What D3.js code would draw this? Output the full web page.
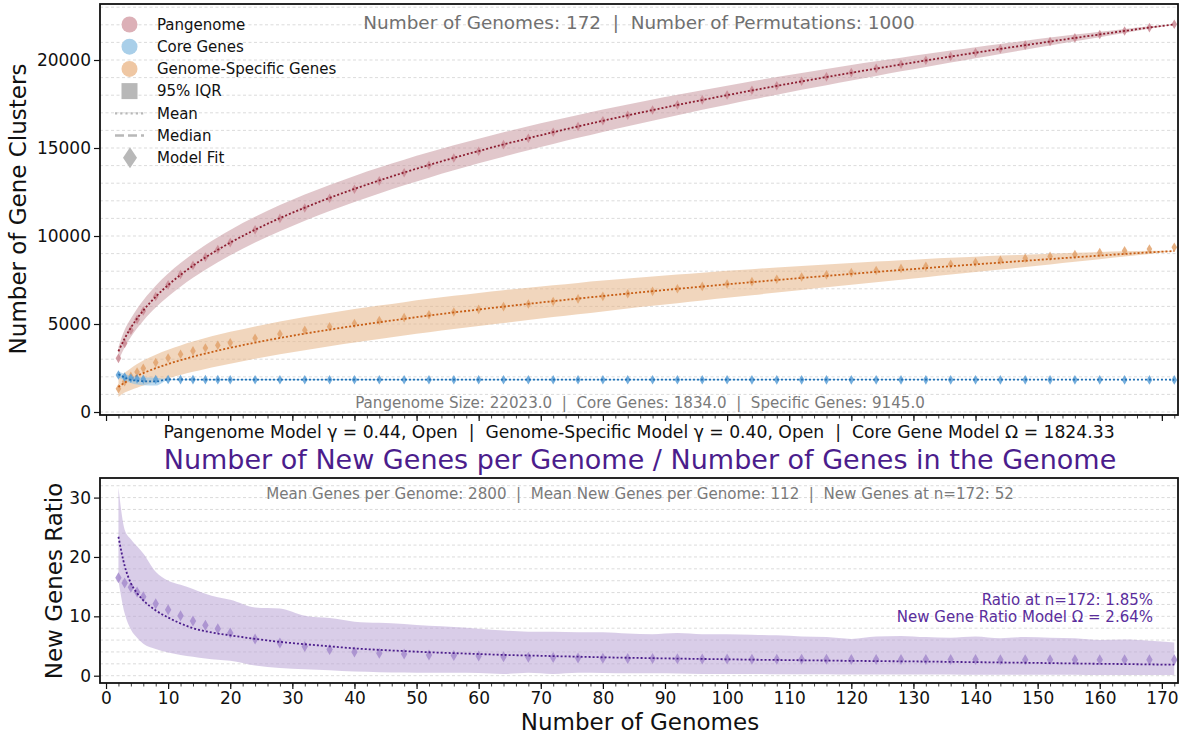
<!DOCTYPE html>
<html>
<head>
<meta charset="utf-8">
<script src="https://cdn.jsdelivr.net/npm/d3@7"></script>
<style>
  body { margin: 0; background: #fff; }
  text { font-family: "DejaVu Sans", sans-serif; white-space: pre; }
</style>
</head>
<body>
<div id="chart"></div>
<script>

// number of genomes sampled (x)
var genomes = [2,3,4,5,6,8,10,12,14,16,18,20,24,28,32,36,40,44,48,52,56,60,64,68,72,76,80,84,88,92,96,100,
    104,108,112,116,120,124,128,132,136,140,144,148,152,156,160,164,168,172];

// pangenome
var panMean = [3450,4173,4790,5312,5769,6551,7213,7792,8312,8783,9218,9622,10357,11015,11613,12165,12676,13156,13608,14035,
    14441,14829,15199,15556,15898,16228,16548,16855,17154,17446,17727,18002,18269,18529,18783,19031,19274,19512,19745,19973,
    20196,20415,20631,20841,21050,21254,21453,21652,21845,22023];
var panLo = [2900,3673,4260,4752,5189,5931,6563,7122,7622,8083,8508,8902,9627,10275,10873,11425,11936,12421,12878,13315,
    13731,14129,14509,14876,15233,15578,15913,16235,16554,16866,17167,17462,17749,18029,18303,18571,18834,19097,19355,19608,
    19856,20100,20346,20586,20825,21064,21298,21537,21775,22023];
var panHi = [3700,4673,5320,5872,6349,7171,7863,8462,9002,9483,9928,10342,11087,11755,12353,12905,13416,13891,14338,14755,
    15151,15529,15889,16236,16563,16878,17183,17475,17754,18026,18287,18542,18789,19029,19263,19491,19714,19927,20135,20338,
    20536,20730,20916,21096,21275,21444,21608,21767,21915,22023];
var panFit = [3050,3900,4650,5250,5740,6560,7230,7810,8330,8800,9230,9625,10350,11000,11595,12145,12655,13135,13590,14020,
    14428,14818,15190,15550,15894,16226,16548,16858,17158,17452,17735,18010,18278,18539,18794,19042,19285,19523,19756,19983,
    20205,20423,20637,20846,21053,21255,21452,21648,21840,22030];

// core genes
var coreMean = [2150,1960,1830,1780,1750,1740,1850,1848,1846,1845,1844,1843,1842,1841,1840,1840,1839,1839,1838,1838,
    1838,1837,1837,1837,1837,1837,1837,1837,1837,1837,1837,1837,1836,1836,1836,1836,1836,1836,1836,1836,
    1836,1836,1835,1835,1835,1835,1835,1835,1835,1834];
var coreLo = [1980,1800,1650,1560,1520,1500,1805,1805,1805,1805,1805,1805,1805,1805,1805,1805,1805,1805,1805,1805,
    1805,1805,1806,1806,1806,1807,1807,1808,1808,1809,1810,1810,1811,1812,1813,1814,1815,1816,1817,1818,
    1819,1820,1822,1824,1826,1828,1830,1831,1833,1834];
var coreHi = [2300,2160,2050,1990,1960,1950,1880,1878,1876,1875,1874,1873,1872,1871,1870,1870,1869,1869,1868,1868,
    1868,1867,1867,1867,1866,1866,1865,1865,1864,1864,1863,1862,1861,1860,1859,1858,1857,1856,1855,1854,
    1853,1852,1850,1848,1846,1844,1841,1839,1836,1834];
var coreFit = [2100,1990,1920,1880,1860,1850,1845,1842,1840,1839,1838,1837,1836,1835,1834,1834,1833,1833,1832,1832,
    1832,1831,1831,1831,1830,1830,1830,1830,1829,1829,1829,1829,1828,1828,1828,1828,1828,1827,1827,1827,
    1827,1827,1826,1826,1826,1826,1826,1825,1825,1825];

// genome-specific genes
var specMean = [1420,1668,1873,2051,2210,2488,2729,2944,3141,3321,3490,3649,3941,4208,4453,4682,4897,5100,5293,5478,
    5655,5824,5988,6146,6298,6446,6590,6730,6866,6999,7128,7255,7378,7499,7618,7734,7848,7960,8070,8177,
    8284,8388,8491,8592,8691,8790,8887,8982,9070,9145];
var specLo = [850,1108,1253,1381,1500,1718,1919,2104,2281,2441,2595,2744,3021,3278,3513,3737,3947,4150,4343,4528,
    4710,4884,5058,5226,5393,5556,5715,5875,6031,6184,6338,6490,6638,6789,6938,7084,7228,7375,7520,7662,
    7809,7953,8096,8242,8386,8535,8682,8832,8980,9145];
var specHi = [1900,2228,2493,2721,2920,3258,3539,3784,4001,4201,4385,4554,4861,5138,5393,5627,5847,6050,6243,6428,
    6600,6764,6918,7066,7203,7336,7465,7585,7701,7814,7918,8020,8118,8209,8298,8384,8468,8545,8620,8692,
    8759,8823,8886,8942,8996,9045,9092,9132,9160,9145];
var specFit = [1320,1718,2023,2271,2480,2808,3069,3284,3471,3641,3790,3929,4191,4428,4643,4842,5027,5200,5363,5528,
    5685,5834,5988,6136,6283,6426,6570,6715,6856,6999,7138,7275,7408,7539,7668,7794,7918,8040,8160,8277,
    8394,8508,8621,8732,8841,8950,9057,9162,9265,9360];

// new genes ratio (%)
var ratioMean = [23.4,18.5,15.6,13.9,12.7,11.0,9.8,8.8,8.0,7.5,7.1,6.8,6.2,5.7,5.3,4.95,4.6,4.35,4.15,3.95,
    3.8,3.65,3.5,3.4,3.3,3.2,3.1,3.02,2.95,2.88,2.82,2.76,2.7,2.65,2.6,2.55,2.5,2.46,2.42,2.38,
    2.33,2.28,2.23,2.18,2.12,2.06,2.0,1.96,1.9,1.85];
var ratioLo = [16.0,10.5,7.8,6.4,5.4,4.5,3.9,3.5,3.2,2.9,2.7,2.5,1.7,1.3,1.1,0.9,0.7,0.6,0.55,0.5,
    0.5,0.45,0.3,0.5,0.3,0.5,0.45,0.4,0.4,0.35,0.3,0.3,0.3,0.25,0.25,0.25,0.2,0.2,0.2,0.2,
    0.2,0.15,0.15,0.15,0.15,0.15,0.1,0.1,0.1,0.1];
var ratioHi = [31.7,24.6,23.0,21.8,20.6,17.5,16.0,15.3,14.6,13.8,13.2,12.8,11.5,11.3,10.1,9.7,9.1,8.9,8.7,8.4,
    8.2,7.9,7.6,7.4,7.4,7.3,7.3,7.1,7.0,7.2,7.0,7.0,6.9,6.8,6.6,6.5,6.2,6.6,6.7,6.5,
    6.4,6.6,6.3,6.5,6.4,6.3,6.0,6.1,5.9,5.6];
var ratioFit = [16.5,15.6,14.9,14.1,13.3,12.1,11.1,10.1,9.2,8.5,7.9,7.2,6.2,5.5,4.9,4.4,4.0,3.8,3.65,3.5,
    3.4,3.3,3.2,3.12,3.05,3.0,2.95,2.9,2.88,2.85,2.82,2.8,2.78,2.77,2.76,2.75,2.74,2.73,2.72,2.72,
    2.71,2.71,2.70,2.70,2.69,2.69,2.68,2.68,2.67,2.67];

// ticks
var xTicks = [0,10,20,30,40,50,60,70,80,90,100,110,120,130,140,150,160,170];
var yTopTicks = [0,5000,10000,15000,20000];
var yBotTicks = [0,10,20,30];

var legendItems = ['Pangenome','Core Genes','Genome-Specific Genes','95% IQR','Mean','Median','Model Fit'];

var width = 1182, height = 735;
var left = 100, right = 1178;

var svg = d3.select('#chart').append('svg')
    .attr('width', width)
    .attr('height', height);

var x = d3.scaleLinear().domain([-0.97, 172.6]).range([left, right]);
var yTop = d3.scaleLinear().domain([-170, 23182]).range([415, 4]);
var yBot = d3.scaleLinear().domain([-1.23, 33.3]).range([683, 478]);

var idx = d3.range(genomes.length);

function diamond(w, h) {
    return 'M0,' + (-h) + 'L' + w + ',0L0,' + h + 'L' + (-w) + ',0Z';
}

function panel(y, id, gridStep, yTicks, showLabels) {
    var top = y.range()[1], bottom = y.range()[0];
    var g = svg.append('g');

    svg.append('clipPath').attr('id', id)
        .append('rect')
        .attr('x', left).attr('y', top)
        .attr('width', right - left).attr('height', bottom - top);

    // dashed grid
    var grid = d3.range(0, y.domain()[1], gridStep);
    g.selectAll('line.grid').data(grid).enter()
        .append('line')
        .attr('class', 'grid')
        .attr('x1', left).attr('x2', right)
        .attr('y1', function(d){ return y(d); })
        .attr('y2', function(d){ return y(d); })
        .attr('stroke', '#d2d2d2')
        .attr('stroke-width', 0.8)
        .attr('stroke-dasharray', '3,2.5');

    var plot = g.append('g').attr('clip-path', 'url(#' + id + ')');

    // frame
    g.append('rect')
        .attr('x', left).attr('y', top)
        .attr('width', right - left).attr('height', bottom - top)
        .attr('fill', 'none')
        .attr('stroke', '#111')
        .attr('stroke-width', 1.8);

    // y axis
    var yAxis = g.append('g').attr('transform', 'translate(' + left + ',0)')
        .call(d3.axisLeft(y).tickValues(yTicks).tickSize(6).tickPadding(3).tickFormat(d3.format('d')));
    yAxis.select('.domain').remove();
    yAxis.selectAll('line').attr('stroke', '#111').attr('stroke-width', 1.2);
    yAxis.selectAll('text').attr('font-size', '17px').attr('fill', '#111')
        .attr('font-family', 'DejaVu Sans');

    // x axis minor + major
    var xMinor = g.append('g').attr('transform', 'translate(0,' + bottom + ')')
        .call(d3.axisBottom(x).tickValues(d3.range(0, 173, 2)).tickSize(3.5).tickFormat(''));
    xMinor.select('.domain').remove();
    xMinor.selectAll('line').attr('stroke', '#111').attr('stroke-width', 0.8);

    var xAxis = g.append('g').attr('transform', 'translate(0,' + bottom + ')')
        .call(d3.axisBottom(x).tickValues(xTicks).tickSize(6).tickPadding(3)
            .tickFormat(showLabels ? d3.format('d') : ''));
    xAxis.select('.domain').remove();
    xAxis.selectAll('line').attr('stroke', '#111').attr('stroke-width', 1.2);
    xAxis.selectAll('text').attr('font-size', '17px').attr('fill', '#111')
        .attr('font-family', 'DejaVu Sans');

    return plot;
}

function series(plot, y, mean, lo, hi, fit, st) {
    plot.append('path')
        .datum(idx)
        .attr('d', d3.area()
            .x(function(i){ return x(genomes[i]); })
            .y0(function(i){ return y(lo[i]); })
            .y1(function(i){ return y(hi[i]); })
            .curve(d3.curveMonotoneX))
        .attr('fill', st.band)
        .attr('fill-opacity', st.bandOpacity);

    plot.selectAll(null)
        .data(idx)
        .enter()
        .append('path')
        .attr('d', diamond(st.w, st.h))
        .attr('transform', function(i){ return 'translate(' + x(genomes[i]) + ',' + y(fit[i]) + ')'; })
        .attr('fill', st.marker)
        .attr('fill-opacity', 0.85);

    plot.append('path')
        .datum(idx)
        .attr('d', d3.line()
            .x(function(i){ return x(genomes[i]); })
            .y(function(i){ return y(mean[i]); })
            .curve(d3.curveMonotoneX))
        .attr('fill', 'none')
        .attr('stroke', st.line)
        .attr('stroke-width', 1.8)
        .attr('stroke-dasharray', '2,2');
}

var topPlot = panel(yTop, 'clipTop', 1000, yTopTicks, false);
var botPlot = panel(yBot, 'clipBot', 2, yBotTicks, true);

series(topPlot, yTop, panMean, panLo, panHi, panFit,
    {band: '#c48f98', bandOpacity: 0.5, marker: '#c98893', line: '#8c1d30', w: 2.8, h: 4.8});
series(topPlot, yTop, specMean, specLo, specHi, specFit,
    {band: '#e6b587', bandOpacity: 0.55, marker: '#e2a26c', line: '#c75d14', w: 2.8, h: 4.8});
series(topPlot, yTop, coreMean, coreLo, coreHi, coreFit,
    {band: '#8fc2e4', bandOpacity: 0.6, marker: '#5b9fd6', line: '#1f6fb4', w: 2.8, h: 4.8});
series(botPlot, yBot, ratioMean, ratioLo, ratioHi, ratioFit,
    {band: '#b9a4d6', bandOpacity: 0.55, marker: '#a58bcc', line: '#4b1d8c', w: 3.2, h: 5.5});

// legend
var legend = svg.append('g');
var legendY = function(i){ return 24.5 + i * 22.2; };
var circleColors = ['#dcb0b7', '#a9cfe9', '#efc7a3'];
circleColors.forEach(function(c, i){
    legend.append('circle').attr('cx', 129.5).attr('cy', legendY(i)).attr('r', 8).attr('fill', c);
});
legend.append('rect').attr('x', 121.5).attr('y', legendY(3) - 8).attr('width', 16).attr('height', 16).attr('fill', '#b8b8b8');
legend.append('line').attr('x1', 115).attr('x2', 145).attr('y1', legendY(4)).attr('y2', legendY(4))
    .attr('stroke', '#b8b8b8').attr('stroke-width', 2.2).attr('stroke-dasharray', '2.2,3');
legend.append('line').attr('x1', 115).attr('x2', 144).attr('y1', legendY(5)).attr('y2', legendY(5))
    .attr('stroke', '#b8b8b8').attr('stroke-width', 2.5).attr('stroke-dasharray', '9,4');
legend.append('path').attr('d', diamond(7, 10.5))
    .attr('transform', 'translate(130,' + legendY(6) + ')').attr('fill', '#b8b8b8');
legend.selectAll('text.leg').data(legendItems).enter()
    .append('text')
    .attr('class', 'leg')
    .attr('x', 157)
    .attr('y', function(d, i){ return legendY(i); })
    .attr('dy', '0.35em')
    .attr('font-size', '15px')
    .attr('fill', '#111')
    .text(function(d){ return d; });

// annotations
function label(txt, px, py, size, color, anchor) {
    return svg.append('text')
        .attr('x', px).attr('y', py)
        .attr('dy', '0.35em')
        .attr('text-anchor', anchor || 'middle')
        .attr('font-size', size)
        .attr('fill', color)
        .text(txt);
}

label('Number of Genomes: 172  |  Number of Permutations: 1000', 639, 23, '18.4px', '#707070');
label('Pangenome Size: 22023.0  |  Core Genes: 1834.0  |  Specific Genes: 9145.0', 640, 403, '15.1px', '#7a7a7a');
label('Pangenome Model \u03b3 = 0.44, Open  |  Genome-Specific Model \u03b3 = 0.40, Open  |  Core Gene Model \u03a9 = 1824.33',
    639, 432, '17.2px', '#111');
label('Number of New Genes per Genome / Number of Genes in the Genome', 640, 460, '27px', '#4b1d8c');
label('Mean Genes per Genome: 2800  |  Mean New Genes per Genome: 112  |  New Genes at n=172: 52', 640, 494, '15.1px', '#7a7a7a');
label('Ratio at n=172: 1.85%', 1153, 600, '15px', '#5a2d9c', 'end');
label('New Gene Ratio Model \u03a9 = 2.64%', 1153, 617, '15px', '#5a2d9c', 'end');

// axis titles
svg.append('text')
    .attr('transform', 'translate(18,209) rotate(-90)')
    .attr('dy', '0.35em')
    .attr('text-anchor', 'middle')
    .attr('font-size', '23px')
    .attr('fill', '#111')
    .text('Number of Gene Clusters');

svg.append('text')
    .attr('transform', 'translate(54,581) rotate(-90)')
    .attr('dy', '0.35em')
    .attr('text-anchor', 'middle')
    .attr('font-size', '23px')
    .attr('fill', '#111')
    .text('New Genes Ratio');

svg.append('text')
    .attr('x', 640).attr('y', 730)
    .attr('text-anchor', 'middle')
    .attr('font-size', '23px')
    .attr('fill', '#111')
    .text('Number of Genomes');

</script>
</body>
</html>
